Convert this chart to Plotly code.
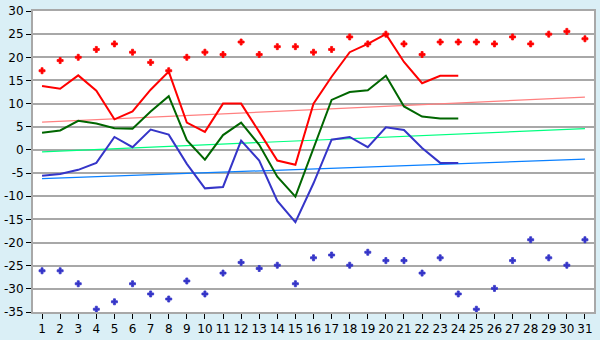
import plotly.graph_objects as go

days = list(range(1, 32))
days_obs = list(range(1, 25))

t_max = [13.8, 13.2, 16.1, 12.8, 6.6, 8.3, 13.0, 16.9, 5.9, 3.9, 10.0, 10.0, 3.9, -2.3,
         -3.2, 10.0, 15.8, 21.1, 22.9, 25.0, 19.0, 14.4, 16.0, 16.0]
t_mean = [3.7, 4.2, 6.3, 5.7, 4.7, 4.6, 8.3, 11.6, 2.1, -2.1, 3.2, 5.9, 1.1, -5.8,
          -10.1, 0.3, 10.8, 12.5, 12.9, 16.0, 9.4, 7.2, 6.8, 6.8]
t_min = [-5.6, -5.2, -4.3, -2.8, 2.8, 0.6, 4.4, 3.3, -3.0, -8.3, -8.0, 2.0, -2.3, -11.0,
         -15.6, -7.2, 2.2, 2.8, 0.6, 4.9, 4.3, 0.4, -2.8, -2.8]

rec_max = [17.1, 19.3, 20.0, 21.7, 22.9, 21.1, 18.9, 17.1, 20.0, 21.1, 20.6, 23.3, 20.6,
           22.3, 22.3, 21.1, 21.7, 24.4, 22.9, 25.0, 22.9, 20.6, 23.3, 23.3, 23.3, 22.9,
           24.4, 22.9, 25.0, 25.6, 24.0]
rec_min = [-26.1, -26.1, -28.9, -34.4, -32.8, -28.9, -31.1, -32.2, -28.3, -31.1, -26.6,
           -24.3, -25.6, -24.9, -28.9, -23.3, -22.7, -24.9, -22.1, -23.9, -23.9, -26.6,
           -23.3, -31.1, -34.4, -29.9, -23.9, -19.4, -23.3, -24.9, -19.4]

norm_days = [1, 31]
norm_max = [6.0, 11.4]
norm_mean = [-0.4, 4.6]
norm_min = [-6.2, -2.0]

y_ticks = [-35, -30, -25, -20, -15, -10, -5, 0, 5, 10, 15, 20, 25, 30]
y_labels = [str(v) for v in y_ticks]
x_labels = [str(d) for d in days]

fig = go.Figure()
# normals
fig.add_trace(go.Scatter(x=norm_days, y=norm_max, mode="lines",
                         line=dict(color="#FF8080", width=1.2)))
fig.add_trace(go.Scatter(x=norm_days, y=norm_mean, mode="lines",
                         line=dict(color="#00FF80", width=1.2)))
fig.add_trace(go.Scatter(x=norm_days, y=norm_min, mode="lines",
                         line=dict(color="#0A80FF", width=1.2)))
# observed
fig.add_trace(go.Scatter(x=days_obs, y=t_max, mode="lines",
                         line=dict(color="#FF0000", width=2)))
fig.add_trace(go.Scatter(x=days_obs, y=t_mean, mode="lines",
                         line=dict(color="#006600", width=2)))
fig.add_trace(go.Scatter(x=days_obs, y=t_min, mode="lines",
                         line=dict(color="#3535C8", width=2)))
# records
fig.add_trace(go.Scatter(x=days, y=rec_max, mode="markers",
                         marker=dict(symbol="cross", size=5, color="#FF0000",
                                     line=dict(color="#FF0000", width=0.8))))
fig.add_trace(go.Scatter(x=days, y=rec_min, mode="markers",
                         marker=dict(symbol="cross", size=5, color="#3535C8",
                                     line=dict(color="#3535C8", width=0.8))))

fig.update_layout(
    width=600, height=340,
    margin=dict(l=26, r=4, t=5, b=20),
    paper_bgcolor="#DAEFF6",
    plot_bgcolor="#FFFFFF",
    showlegend=False,
    font=dict(family="DejaVu Sans", size=12, color="#000000"),
)
fig.update_xaxes(
    range=[0.5, 31.5], tickvals=days, ticktext=x_labels,
    ticks="outside", ticklen=5, tickcolor="#000000", tickwidth=1,
    showgrid=False, zeroline=False, ticklabeloverflow="allow",
    showline=True, linecolor="#A8A8A8", linewidth=2, mirror=True,
)
fig.update_yaxes(
    range=[-35, 30], tickvals=y_ticks, ticktext=y_labels,
    ticks="outside", ticklen=5, tickcolor="#000000", tickwidth=1,
    showgrid=True, gridcolor="#A8A8A8", gridwidth=1.5, zeroline=False,
    ticklabeloverflow="allow",
    showline=True, linecolor="#A8A8A8", linewidth=2, mirror=True,
)

fig.write_html("out.html")
